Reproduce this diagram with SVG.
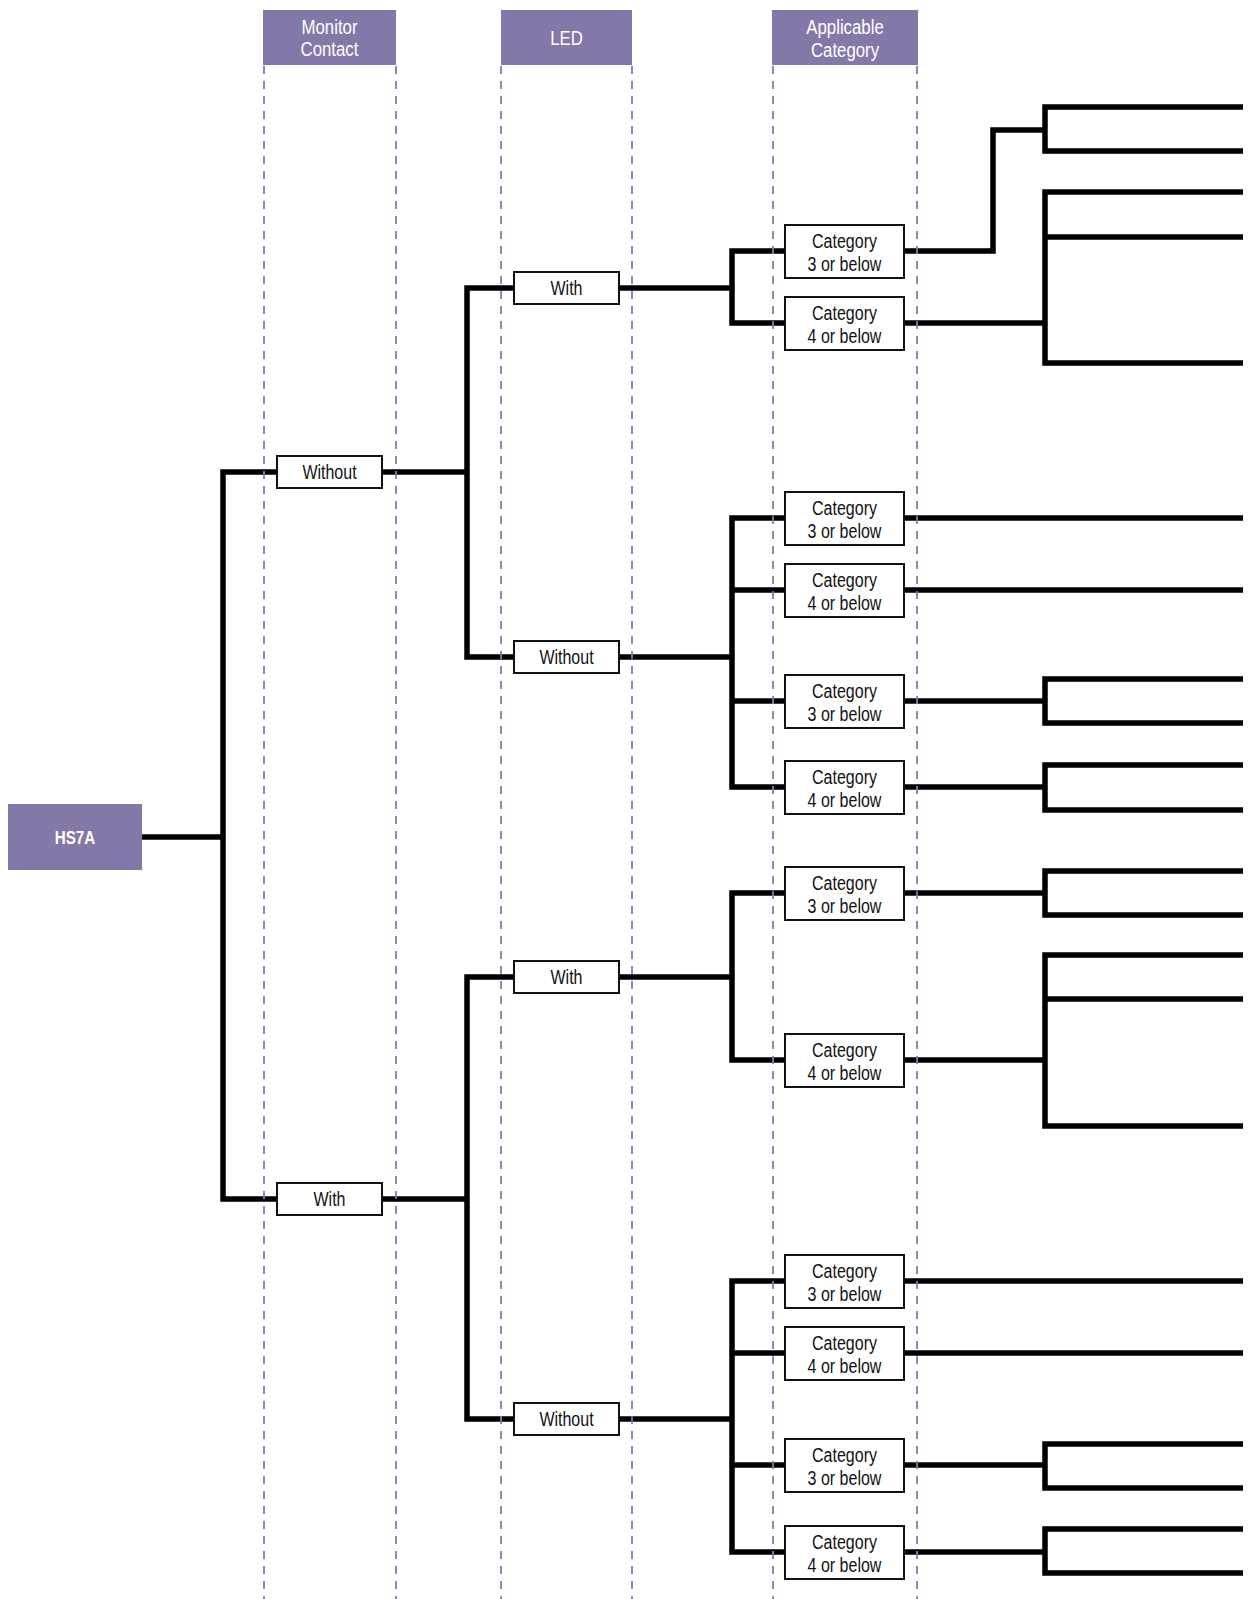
<svg xmlns="http://www.w3.org/2000/svg" width="1250" height="1599" viewBox="0 0 1250 1599">
<style>
.hdr{fill:#8478a8}
.ht{fill:#ffffff;font-family:"Liberation Sans",Arial,sans-serif;font-size:21px;text-anchor:middle}
.hb{font-weight:bold;font-size:19px}
.box{fill:#ffffff;stroke:#111111;stroke-width:2}
.bt{fill:#111111;font-family:"Liberation Sans",Arial,sans-serif;font-size:20px;text-anchor:middle}
.c{fill:none;stroke:#000000;stroke-width:5.5;stroke-linejoin:miter;stroke-linecap:butt}
.d{stroke:#8579b0;stroke-width:1.8;stroke-dasharray:8,7}
</style>
<rect width="1250" height="1599" fill="#ffffff"/>
<g id="connectors">
<path class="c" d="M142,837 H223"/>
<path class="c" d="M277,472 H223 V1199 H277"/>
<path class="c" d="M382,472 H467"/>
<path class="c" d="M514,288 H467 V657 H514"/>
<path class="c" d="M382,1199 H467"/>
<path class="c" d="M514,977 H467 V1419 H514"/>
<path class="c" d="M619,288 H732"/>
<path class="c" d="M785,251 H732 V323 H785"/>
<path class="c" d="M619,657 H732"/>
<path class="c" d="M785,518 H732 V787 H785"/>
<path class="c" d="M732,590 H785"/>
<path class="c" d="M732,701 H785"/>
<path class="c" d="M619,977 H732"/>
<path class="c" d="M785,893 H732 V1060 H785"/>
<path class="c" d="M619,1419 H732"/>
<path class="c" d="M785,1281 H732 V1552 H785"/>
<path class="c" d="M732,1353 H785"/>
<path class="c" d="M732,1465 H785"/>
<path class="c" d="M904,251 H993 V130 H1045"/>
<path class="c" d="M1243,107 H1045 V151 H1243"/>
<path class="c" d="M904,323 H1045"/>
<path class="c" d="M1243,192 H1045 V363 H1243"/>
<path class="c" d="M1045,237 H1243"/>
<path class="c" d="M904,518 H1243"/>
<path class="c" d="M904,590 H1243"/>
<path class="c" d="M904,701 H1045"/>
<path class="c" d="M1243,679 H1045 V723 H1243"/>
<path class="c" d="M904,787 H1045"/>
<path class="c" d="M1243,765 H1045 V810 H1243"/>
<path class="c" d="M904,893 H1045"/>
<path class="c" d="M1243,871 H1045 V915 H1243"/>
<path class="c" d="M904,1060 H1045"/>
<path class="c" d="M1243,955 H1045 V1126 H1243"/>
<path class="c" d="M1045,999 H1243"/>
<path class="c" d="M904,1281 H1243"/>
<path class="c" d="M904,1353 H1243"/>
<path class="c" d="M904,1465 H1045"/>
<path class="c" d="M1243,1444 H1045 V1488 H1243"/>
<path class="c" d="M904,1552 H1045"/>
<path class="c" d="M1243,1529 H1045 V1573 H1243"/>
</g>
<g id="columns">
<line class="d" x1="264" y1="66" x2="264" y2="1599"/>
<line class="d" x1="396" y1="66" x2="396" y2="1599"/>
<line class="d" x1="501" y1="66" x2="501" y2="1599"/>
<line class="d" x1="632" y1="66" x2="632" y2="1599"/>
<line class="d" x1="773" y1="66" x2="773" y2="1599"/>
<line class="d" x1="917" y1="66" x2="917" y2="1599"/>
</g>
<g id="hdr-monitor"><rect class="hdr" x="263" y="10" width="133" height="55"/><text class="ht" transform="translate(329.5,34) scale(0.8,1)"><tspan x="0">Monitor</tspan><tspan x="0" dy="22">Contact</tspan></text></g>
<g id="hdr-led"><rect class="hdr" x="501" y="10" width="131" height="55"/><text class="ht" transform="translate(566.5,45) scale(0.8,1)">LED</text></g>
<g id="hdr-cat"><rect class="hdr" x="772" y="10" width="146" height="55"/><text class="ht" transform="translate(845,34) scale(0.8,1)"><tspan x="0">Applicable</tspan><tspan x="0" dy="23">Category</tspan></text></g>
<g id="hs7a"><rect class="hdr" x="8" y="804" width="134" height="66"/><text class="ht hb" transform="translate(75,844) scale(0.8,1)">HS7A</text></g>
<g id="mc-without"><rect class="box" x="277" y="456" width="105" height="32"/><text class="bt" transform="translate(329.5,479) scale(0.8,1)">Without</text></g>
<g id="mc-with"><rect class="box" x="277" y="1183" width="105" height="32"/><text class="bt" transform="translate(329.5,1206) scale(0.8,1)">With</text></g>
<g id="led-with-1"><rect class="box" x="514" y="272" width="105" height="32"/><text class="bt" transform="translate(566.5,295) scale(0.8,1)">With</text></g>
<g id="led-without-1"><rect class="box" x="514" y="641" width="105" height="32"/><text class="bt" transform="translate(566.5,664) scale(0.8,1)">Without</text></g>
<g id="led-with-2"><rect class="box" x="514" y="961" width="105" height="32"/><text class="bt" transform="translate(566.5,984) scale(0.8,1)">With</text></g>
<g id="led-without-2"><rect class="box" x="514" y="1403" width="105" height="32"/><text class="bt" transform="translate(566.5,1426) scale(0.8,1)">Without</text></g>
<g id="cat-1a"><rect class="box" x="785" y="225" width="119" height="53"/><text class="bt" transform="translate(844.5,248) scale(0.8,1)"><tspan x="0">Category</tspan><tspan x="0" dy="23">3 or below</tspan></text></g>
<g id="cat-1b"><rect class="box" x="785" y="297" width="119" height="53"/><text class="bt" transform="translate(844.5,320) scale(0.8,1)"><tspan x="0">Category</tspan><tspan x="0" dy="23">4 or below</tspan></text></g>
<g id="cat-2a"><rect class="box" x="785" y="492" width="119" height="53"/><text class="bt" transform="translate(844.5,515) scale(0.8,1)"><tspan x="0">Category</tspan><tspan x="0" dy="23">3 or below</tspan></text></g>
<g id="cat-2b"><rect class="box" x="785" y="564" width="119" height="53"/><text class="bt" transform="translate(844.5,587) scale(0.8,1)"><tspan x="0">Category</tspan><tspan x="0" dy="23">4 or below</tspan></text></g>
<g id="cat-2c"><rect class="box" x="785" y="675" width="119" height="53"/><text class="bt" transform="translate(844.5,698) scale(0.8,1)"><tspan x="0">Category</tspan><tspan x="0" dy="23">3 or below</tspan></text></g>
<g id="cat-2d"><rect class="box" x="785" y="761" width="119" height="53"/><text class="bt" transform="translate(844.5,784) scale(0.8,1)"><tspan x="0">Category</tspan><tspan x="0" dy="23">4 or below</tspan></text></g>
<g id="cat-3a"><rect class="box" x="785" y="867" width="119" height="53"/><text class="bt" transform="translate(844.5,890) scale(0.8,1)"><tspan x="0">Category</tspan><tspan x="0" dy="23">3 or below</tspan></text></g>
<g id="cat-3b"><rect class="box" x="785" y="1034" width="119" height="53"/><text class="bt" transform="translate(844.5,1057) scale(0.8,1)"><tspan x="0">Category</tspan><tspan x="0" dy="23">4 or below</tspan></text></g>
<g id="cat-4a"><rect class="box" x="785" y="1255" width="119" height="53"/><text class="bt" transform="translate(844.5,1278) scale(0.8,1)"><tspan x="0">Category</tspan><tspan x="0" dy="23">3 or below</tspan></text></g>
<g id="cat-4b"><rect class="box" x="785" y="1327" width="119" height="53"/><text class="bt" transform="translate(844.5,1350) scale(0.8,1)"><tspan x="0">Category</tspan><tspan x="0" dy="23">4 or below</tspan></text></g>
<g id="cat-4c"><rect class="box" x="785" y="1439" width="119" height="53"/><text class="bt" transform="translate(844.5,1462) scale(0.8,1)"><tspan x="0">Category</tspan><tspan x="0" dy="23">3 or below</tspan></text></g>
<g id="cat-4d"><rect class="box" x="785" y="1526" width="119" height="53"/><text class="bt" transform="translate(844.5,1549) scale(0.8,1)"><tspan x="0">Category</tspan><tspan x="0" dy="23">4 or below</tspan></text></g>
</svg>
